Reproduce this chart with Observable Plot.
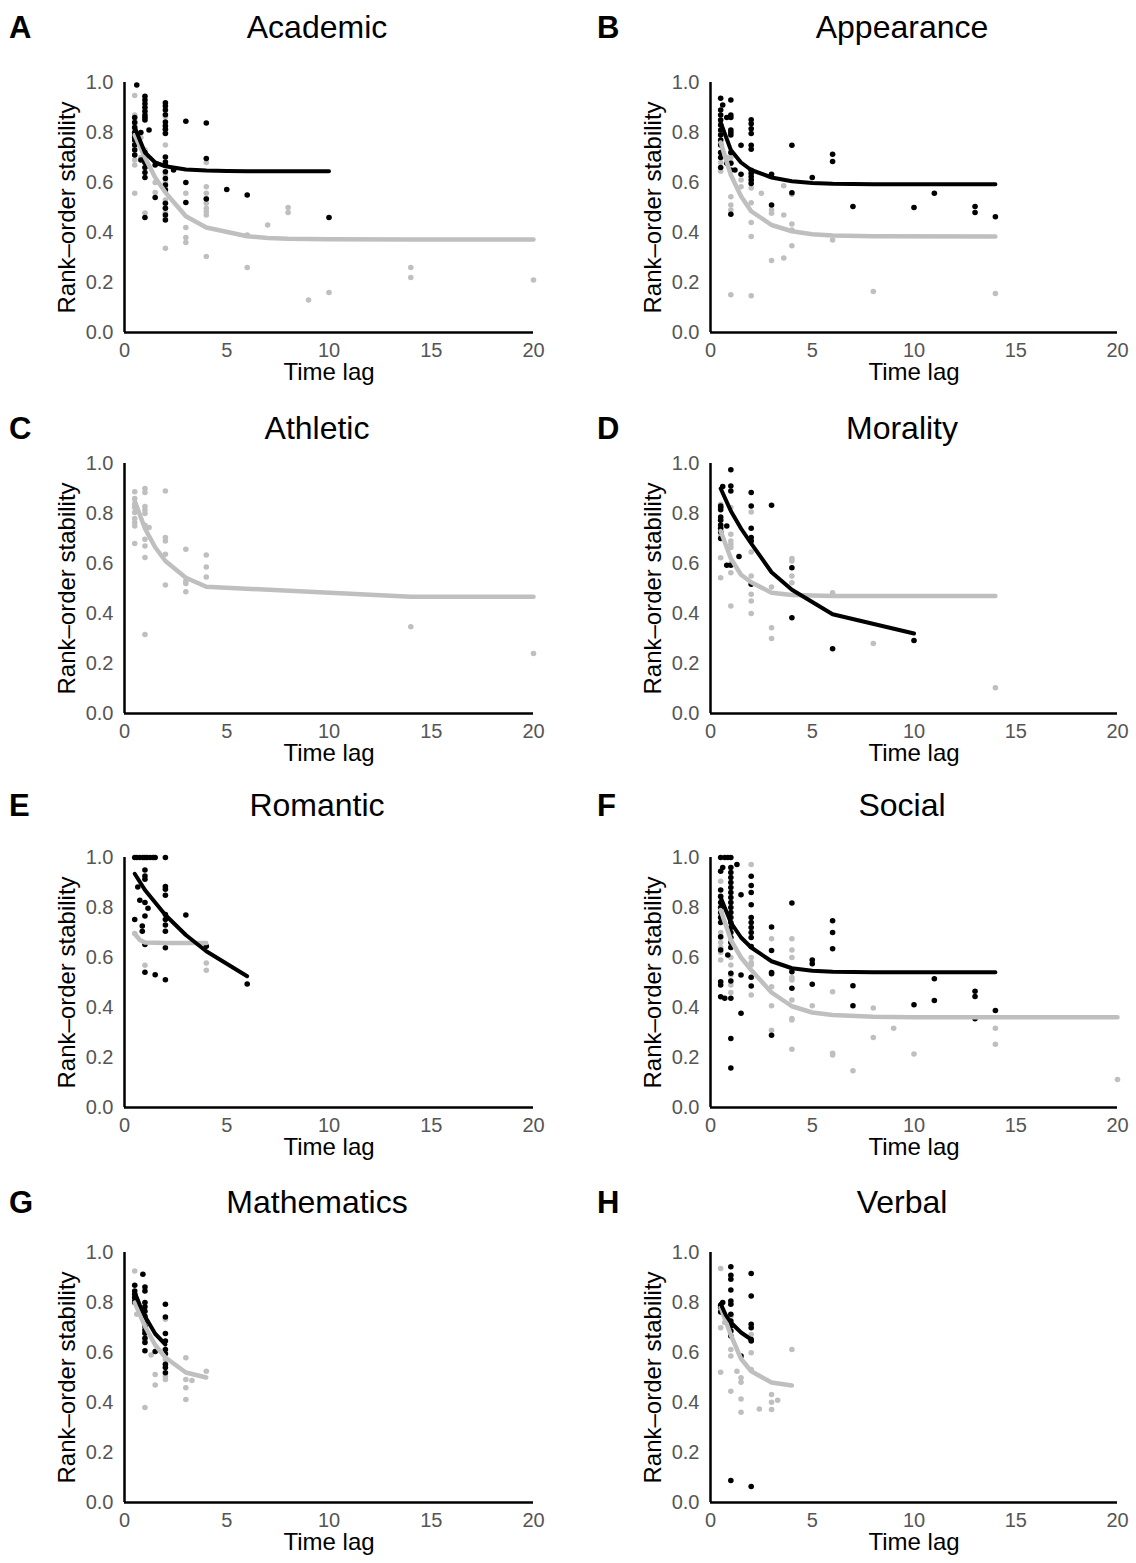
<!DOCTYPE html>
<html><head><meta charset="utf-8">
<script src="https://cdn.jsdelivr.net/npm/d3@7"></script>
<script src="https://cdn.jsdelivr.net/npm/@observablehq/plot@0.6"></script>
<style>
body{margin:0;background:#fff;}
#root{position:relative;width:1136px;height:1563px;font-family:"Liberation Sans",Arial,sans-serif;overflow:hidden;background:#fff;}
.letter{position:absolute;font-weight:bold;font-size:31px;line-height:1;color:#000;}
.title{position:absolute;font-size:32px;line-height:1;transform:translateX(-50%);white-space:nowrap;color:#000;}
.panel{position:absolute;}
</style></head><body><div id="root"></div>
<script>
// ---- labels ----
const titles = ["Academic","Appearance","Athletic","Morality","Romantic","Social","Mathematics","Verbal"];
const letters = ["A","B","C","D","E","F","G","H"];
const xTicks = [0,5,10,15,20];
const yTicks = [0,0.2,0.4,0.6,0.8,1.0];
const xLabel = "Time lag";
const yLabel = "Rank–order stability";

// ---- data: [timeLag, stability values...] ----
const academicBlack = [
[0.5,0.86,0.84,0.82,0.80,0.79,0.78,0.77,0.75,0.73,0.71],[0.6,0.99],[0.8,0.80,0.69],
[1,0.945,0.93,0.915,0.90,0.885,0.87,0.86,0.85,0.72,0.70,0.68,0.66,0.64,0.62,0.46],
[1.2,0.81],[1.5,0.67,0.54],
[2,0.919,0.906,0.89,0.871,0.842,0.826,0.813,0.796,0.702,0.682,0.669,0.643,0.616,0.59,0.57,0.517,0.497,0.47,0.45],
[2.4,0.65],[3,0.845,0.60,0.52],[4,0.838,0.696,0.534],[5,0.572],[6,0.55],[10,0.46]];
const academicGrey = [
[0.5,0.948,0.87,0.85,0.83,0.81,0.79,0.76,0.74,0.71,0.69,0.67,0.557],[0.8,0.78,0.70],
[1,0.73,0.68,0.478],[1.5,0.60,0.56],
[2,0.862,0.83,0.81,0.80,0.75,0.63,0.60,0.58,0.53,0.50,0.48,0.46,0.337],
[3,0.557,0.42,0.38,0.36],[4,0.68,0.583,0.557,0.537,0.517,0.497,0.484,0.47,0.304],
[6,0.39,0.26],[7,0.43],[8,0.50,0.48],[9,0.13],[10,0.16],[14,0.26,0.22],[20,0.21]];
const academicBlackFit = [[0.5,0.82],[1,0.72],[1.5,0.68],[2,0.665],[3,0.652],[4,0.648],[5,0.646],[6,0.645],[10,0.645]];
const academicGreyFit = [[0.5,0.79],[1,0.70],[1.5,0.62],[2,0.56],[3,0.465],[4,0.42],[6,0.385],[7,0.378],[8,0.375],[10,0.373],[14,0.372],[20,0.372]];

const appearanceBlack = [
[0.5,0.937,0.89,0.87,0.85,0.83,0.81,0.79,0.77,0.75,0.72,0.70,0.66],[0.6,0.91],[0.8,0.86,0.677],
[1,0.93,0.87,0.86,0.81,0.80,0.79,0.72,0.677,0.65,0.473],[1.2,0.65],[1.5,0.749,0.633],
[2,0.851,0.835,0.815,0.796,0.749,0.733,0.649,0.636,0.623,0.61,0.596],
[3,0.633,0.51],[4,0.749,0.559],[5,0.62],[6,0.713,0.684],[7,0.504],[10,0.50],[11,0.557],[13,0.504,0.48],[14,0.463]];
const appearanceGrey = [
[0.5,0.80,0.76,0.72,0.68,0.645],[0.8,0.70],[1,0.70,0.68,0.543,0.51,0.49,0.151],[1.5,0.61,0.583],
[2,0.578,0.519,0.44,0.384,0.147],[2.5,0.557],[3,0.49,0.477,0.288],[3.6,0.587,0.47,0.298],
[4,0.553,0.434,0.41,0.347],[6,0.37],[8,0.164],[14,0.156]];
const appearanceBlackFit = [[0.5,0.84],[1,0.73],[1.5,0.68],[2,0.65],[3,0.62],[4,0.605],[5,0.598],[6,0.595],[8,0.593],[14,0.593]];
const appearanceGreyFit = [[0.5,0.76],[1,0.63],[1.5,0.545],[2,0.485],[3,0.43],[4,0.405],[5,0.393],[6,0.388],[8,0.385],[14,0.384]];

const athleticBlack = [];
const athleticGrey = [
[0.5,0.887,0.86,0.837,0.824,0.804,0.78,0.764,0.75,0.68],
[1,0.90,0.884,0.828,0.814,0.80,0.753,0.697,0.67,0.624,0.316],[1.2,0.744],
[2,0.89,0.704,0.69,0.637,0.514],[3,0.657,0.53,0.52,0.487],[4,0.634,0.586,0.546],[14,0.347],[20,0.24]];
const athleticBlackFit = [];
const athleticGreyFit = [[0.5,0.85],[1,0.74],[1.5,0.665],[2,0.61],[3,0.543],[4,0.507],[14,0.467],[20,0.467]];

const moralityBlack = [
[0.5,0.83,0.824,0.815,0.786,0.773,0.754,0.741,0.726,0.70],[0.6,0.908],[0.8,0.75,0.593],
[1,0.975,0.91,0.89,0.593],[1.4,0.628],[2,0.884,0.83,0.741,0.704,0.69,0.517],
[3,0.833],[4,0.583,0.383],[6,0.259],[10,0.292]];
const moralityGrey = [
[0.5,0.837,0.78,0.75,0.71,0.623,0.543],[1,0.824,0.717,0.69,0.677,0.664,0.60,0.563,0.43],
[2,0.806,0.646,0.55,0.477,0.45,0.40],[3,0.506,0.343,0.30],[4,0.62,0.61,0.55,0.523],
[6,0.483],[8,0.28],[14,0.103]];
const moralityBlackFit = [[0.5,0.90],[1,0.81],[1.5,0.74],[2,0.68],[3,0.565],[4,0.495],[6,0.397],[10,0.32]];
const moralityGreyFit = [[0.5,0.73],[1,0.62],[1.5,0.555],[2,0.525],[3,0.483],[4,0.474],[6,0.47],[14,0.47]];

const romanticBlack = [
[0.5,1.0,0.752],[0.6,1.0],[0.65,0.882],[0.75,1.0,0.829],[0.87,0.726,0.705],[0.9,1.0],
[1,1.0,0.95,0.926,0.913,0.82,0.766,0.652,0.541],[1.1,1.0],[1.15,0.797],[1.25,1.0],[1.4,1.0],[1.5,1.0,0.531],
[2,1.0,0.884,0.873,0.849,0.772,0.752,0.73,0.705,0.639,0.511],[3,0.77],[4,0.645],[6,0.494]];
const romanticGrey = [[0.5,0.696],[1,0.569],[4,0.578,0.549]];
const romanticBlackFit = [[0.5,0.935],[1,0.87],[1.5,0.82],[2,0.77],[3,0.69],[4,0.625],[6,0.525]];
const romanticGreyFit = [[0.5,0.695],[0.75,0.67],[1,0.66],[2,0.658],[4,0.658]];

const socialBlack = [
[0.5,1.0,0.945,0.87,0.845,0.82,0.80,0.78,0.76,0.74,0.683,0.63,0.503,0.49,0.443],[0.6,0.96],
[0.7,1.0,0.437],[0.85,1.0,0.61],
[1,1.0,0.96,0.94,0.92,0.90,0.88,0.86,0.84,0.82,0.80,0.78,0.76,0.74,0.72,0.70,0.68,0.66,0.64,0.537,0.506,0.437,0.276,0.158],
[1.3,0.972],[1.5,0.851,0.53,0.377],
[2,0.925,0.888,0.86,0.811,0.76,0.74,0.72,0.70,0.68,0.644,0.521,0.486],
[3,0.722,0.628,0.54,0.535,0.289],[4,0.818,0.543,0.477],[5,0.59,0.575,0.493],[6,0.747,0.70,0.635],
[7,0.487,0.407],[10,0.411],[11,0.515,0.428],[13,0.465,0.444,0.355],[14,0.388]];
const socialGrey = [
[0.5,0.905,0.84,0.80,0.76,0.70,0.68,0.66,0.64,0.62,0.59],[1,0.64,0.60,0.57,0.53,0.49,0.46],
[2,0.972,0.60,0.58,0.57,0.52,0.45],[3,0.675,0.483,0.407,0.309],
[4,0.675,0.63,0.60,0.52,0.51,0.43,0.356,0.35,0.233],[5,0.407],[6,0.463,0.217,0.21],[7,0.147],
[8,0.398,0.28],[9,0.317],[10,0.214],[14,0.317,0.253],[20,0.112]];
const socialBlackFit = [[0.5,0.84],[1,0.74],[1.5,0.68],[2,0.64],[3,0.585],[4,0.557],[5,0.547],[6,0.543],[8,0.541],[14,0.541]];
const socialGreyFit = [[0.5,0.79],[1,0.67],[1.5,0.60],[2,0.55],[3,0.46],[4,0.405],[5,0.38],[6,0.37],[8,0.363],[10,0.361],[14,0.361],[20,0.361]];

const mathBlack = [
[0.5,0.869,0.846,0.833,0.82,0.806,0.80],[0.9,0.913],
[1,0.862,0.846,0.80,0.783,0.765,0.745,0.725,0.705,0.69,0.677,0.657,0.64,0.607],[1.5,0.604],
[2,0.793,0.742,0.676,0.646,0.612,0.595,0.553,0.54,0.519]];
const mathGrey = [
[0.5,0.926,0.82],[0.6,0.753],[1,0.657,0.646,0.38],[1.3,0.59],[1.5,0.512,0.47],
[2,0.733,0.572,0.505,0.492],[3,0.579,0.492,0.459,0.412],[3.3,0.488],[4,0.525]];
const mathBlackFit = [[0.5,0.84],[0.75,0.79],[1,0.745],[1.5,0.675],[2,0.632]];
const mathGreyFit = [[0.5,0.80],[1,0.705],[1.5,0.63],[2,0.58],[3,0.52],[4,0.50]];

const verbalBlack = [
[0.5,0.789,0.78,0.762],[0.6,0.80],
[1,0.943,0.909,0.893,0.85,0.806,0.793,0.753,0.726,0.706,0.686,0.666,0.088],[1.5,0.586],
[2,0.916,0.826,0.713,0.699,0.652,0.646,0.064]];
const verbalGrey = [
[0.5,0.936,0.699,0.521],[0.7,0.72],[1,0.746,0.686,0.612,0.586,0.445],[1.3,0.525],
[1.5,0.499,0.481,0.414,0.361],[2,0.672,0.599,0.532],[2.4,0.374],[3,0.432,0.401,0.372],[3.3,0.409],[4,0.612]];
const verbalBlackFit = [[0.5,0.795],[0.75,0.75],[1,0.72],[1.5,0.68],[2,0.652]];
const verbalGreyFit = [[0.5,0.78],[1,0.67],[1.5,0.575],[2,0.525],[3,0.48],[4,0.468]];

// ---- assemble ----
const blackSets = [academicBlack, appearanceBlack, athleticBlack, moralityBlack, romanticBlack, socialBlack, mathBlack, verbalBlack];
const greySets = [academicGrey, appearanceGrey, athleticGrey, moralityGrey, romanticGrey, socialGrey, mathGrey, verbalGrey];
const blackFits = [academicBlackFit, appearanceBlackFit, athleticBlackFit, moralityBlackFit, romanticBlackFit, socialBlackFit, mathBlackFit, verbalBlackFit];
const greyFits = [academicGreyFit, appearanceGreyFit, athleticGreyFit, moralityGreyFit, romanticGreyFit, socialGreyFit, mathGreyFit, verbalGreyFit];

const flat = rows => rows.flatMap(([x, ...ys]) => ys.map(y => ({x, y})));
const fit = rows => rows.map(([x, y]) => ({x, y}));

const BLACK = "#000000", GREY = "#bfbfbf";
const frameTops = [82, 463, 857, 1252];
const titleCenters = [27, 428, 805, 1202];
const frameH = 250;
const mTop = 10, mBottom = 62;

const root = document.getElementById("root");
for (let i = 0; i < 8; i++) {
  const row = Math.floor(i / 2), col = i % 2;
  const left = col ? 568 : 0;
  const mLeft = col ? 142 : 124;
  const mRight = col ? 19 : 35;

  const L = document.createElement("div");
  L.className = "letter"; L.textContent = letters[i];
  L.style.left = (col ? 597 : 9) + "px";
  L.style.top = (titleCenters[row] - 15) + "px";
  root.appendChild(L);

  const T = document.createElement("div");
  T.className = "title"; T.textContent = titles[i];
  T.style.left = (col ? 902 : 317) + "px";
  T.style.top = (titleCenters[row] - 16) + "px";
  root.appendChild(T);

  const chart = Plot.plot({
    width: 568, height: mTop + frameH + mBottom,
    marginLeft: mLeft, marginRight: mRight, marginTop: mTop, marginBottom: mBottom,
    style: {fontFamily: '"Liberation Sans", Arial, sans-serif', fontSize: "20px", color: "#555", background: "transparent"},
    x: {domain: [0, 20]},
    y: {domain: [0, 1]},
    marks: [
      Plot.axisX({ticks: xTicks, tickSize: 0, tickPadding: 10, label: null, fontSize: 20}),
      Plot.axisY({ticks: yTicks, tickSize: 0, tickPadding: 11, tickFormat: d3.format(".1f"), label: null, fontSize: 20}),
      Plot.dot(flat(greySets[i]), {x: "x", y: "y", r: 2.8, fill: GREY, stroke: null}),
      Plot.dot(flat(blackSets[i]), {x: "x", y: "y", r: 2.8, fill: BLACK, stroke: null}),
      Plot.line(fit(greyFits[i]), {x: "x", y: "y", stroke: GREY, strokeWidth: 4.5}),
      Plot.line(fit(blackFits[i]), {x: "x", y: "y", stroke: BLACK, strokeWidth: 4}),
      Plot.ruleX([0], {stroke: BLACK, strokeWidth: 2.5}),
      Plot.ruleY([0], {stroke: BLACK, strokeWidth: 2.5}),
      Plot.text([xLabel], {frameAnchor: "bottom", dy: 40, lineAnchor: "middle", fontSize: 24, fill: BLACK}),
      Plot.text([yLabel], {frameAnchor: "left", dx: -57, rotate: -90, textAnchor: "middle", lineAnchor: "middle", fontSize: 24, fill: BLACK})
    ]
  });
  const P = document.createElement("div");
  P.className = "panel";
  P.style.left = left + "px";
  P.style.top = (frameTops[row] - mTop) + "px";
  P.appendChild(chart);
  root.appendChild(P);
}
</script></body></html>
